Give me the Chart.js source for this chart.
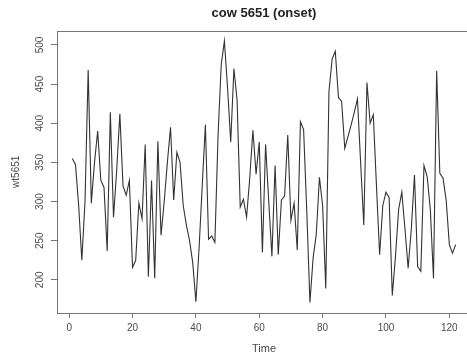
<!DOCTYPE html>
<html>
<head>
<meta charset="utf-8">
<script src="https://cdn.jsdelivr.net/npm/chart.js@4.4.1/dist/chart.umd.min.js"></script>
<style>
  html, body { margin: 0; padding: 0; background: #fff; overflow: hidden; }
</style>
</head>
<body>
<canvas id="chart" width="472" height="356"></canvas>
<script>
// cow 5651 activity series (t = 1..122)
const VALUES = [
  355, 347, 295, 225, 300, 468, 298, 350, 390, 327,
  318, 237, 414, 280, 340, 412, 320, 308, 327, 216,
  225, 298, 278, 373, 204, 327, 202, 377, 257, 300,
  350, 395, 302, 363, 350, 295, 270, 250, 222, 172,
  240, 320, 398, 252, 256, 248, 385, 475, 505, 445,
  376, 470, 430, 293, 303, 280, 330, 391, 335, 376,
  235, 373, 300, 230, 346, 232, 302, 307, 385, 276,
  298, 238, 402, 392, 288, 171, 228, 258, 331, 295,
  189, 440, 482, 492, 433, 428, 368, 383, 398, 414,
  431, 350, 270, 452, 400, 411, 320, 232, 295, 312,
  305, 180, 230, 290, 312, 265, 215, 265, 334, 217,
  211, 346, 332, 290, 202, 467, 336, 330, 302, 245,
  234, 245,
];
const TIME = VALUES.map((_, i) => i + 1);
const X_TICKS = [0, 20, 40, 60, 80, 100, 120];
const Y_TICKS = [200, 250, 300, 350, 400, 450, 500];

const FONT = '"Liberation Sans", Arial, sans-serif';
const INK = "#4a4a4a";

// R pads the data range by 4% on each side
function padded(lo, hi) {
  const d = (hi - lo) * 0.04;
  return [lo - d, hi + d];
}
const [xMin, xMax] = padded(Math.min(...TIME), Math.max(...TIME));
const [yMin, yMax] = padded(Math.min(...VALUES), Math.max(...VALUES));

const rPlotBox = {
  id: "rPlotBox",
  afterDraw(chart) {
    const { ctx, chartArea: a, scales } = chart;
    ctx.save();
    ctx.strokeStyle = "#777";
    ctx.lineWidth = 1;
    ctx.strokeRect(Math.round(a.left) + 0.5, Math.round(a.top) + 0.5,
      Math.round(a.right - a.left), Math.round(a.bottom - a.top));

    // rotated y tick labels, as R draws them
    const y = scales.y;
    ctx.fillStyle = INK;
    ctx.font = `10px ${FONT}`;
    ctx.textAlign = "center";
    ctx.textBaseline = "middle";
    Y_TICKS.forEach((v) => {
      ctx.save();
      ctx.translate(y.right - 17, y.getPixelForValue(v));
      ctx.rotate(-Math.PI / 2);
      ctx.fillText(String(v), 0, 0);
      ctx.restore();
    });
    ctx.restore();
  },
};

new Chart(document.getElementById("chart").getContext("2d"), {
  type: "line",
  data: {
    labels: TIME,
    datasets: [
      {
        data: TIME.map((t, i) => ({ x: t, y: VALUES[i] })),
        borderColor: "#333",
        borderWidth: 1.1,
        pointRadius: 0,
        tension: 0,
        fill: false,
      },
    ],
  },
  options: {
    responsive: false,
    animation: false,
    devicePixelRatio: 1,
    layout: { padding: { left: 0, right: 1, top: 0, bottom: 0 } },
    scales: {
      x: {
        type: "linear",
        min: xMin,
        max: xMax,
        afterBuildTicks: (s) => { s.ticks = X_TICKS.map((v) => ({ value: v })); },
        afterFit: (s) => { s.height = 43; },
        grid: { drawOnChartArea: false, tickLength: 5, color: "#777" },
        border: { display: false },
        ticks: {
          color: INK,
          font: { size: 10, family: FONT },
          padding: 4,
          maxRotation: 0,
          autoSkip: false,
        },
        title: {
          display: true,
          text: "Time",
          color: INK,
          font: { size: 11, family: FONT },
          padding: { top: 0, bottom: 0 },
        },
      },
      y: {
        min: yMin,
        max: yMax,
        afterBuildTicks: (s) => { s.ticks = Y_TICKS.map((v) => ({ value: v })); },
        afterFit: (s) => { s.width = 57; },
        grid: { drawOnChartArea: false, tickLength: 6, color: "#777" },
        border: { display: false },
        ticks: { display: false },
        title: {
          display: true,
          text: "wt5651",
          color: INK,
          font: { size: 10, family: FONT },
          padding: { top: 10, bottom: 0 },
        },
      },
    },
    plugins: {
      legend: { display: false },
      tooltip: { enabled: false },
      title: {
        display: true,
        fullSize: false,
        text: "cow 5651 (onset)",
        color: "#222",
        font: { size: 13, weight: "bold", family: FONT },
        padding: { top: 6, bottom: 9 },
      },
    },
  },
  plugins: [rPlotBox],
});
</script>
</body>
</html>
